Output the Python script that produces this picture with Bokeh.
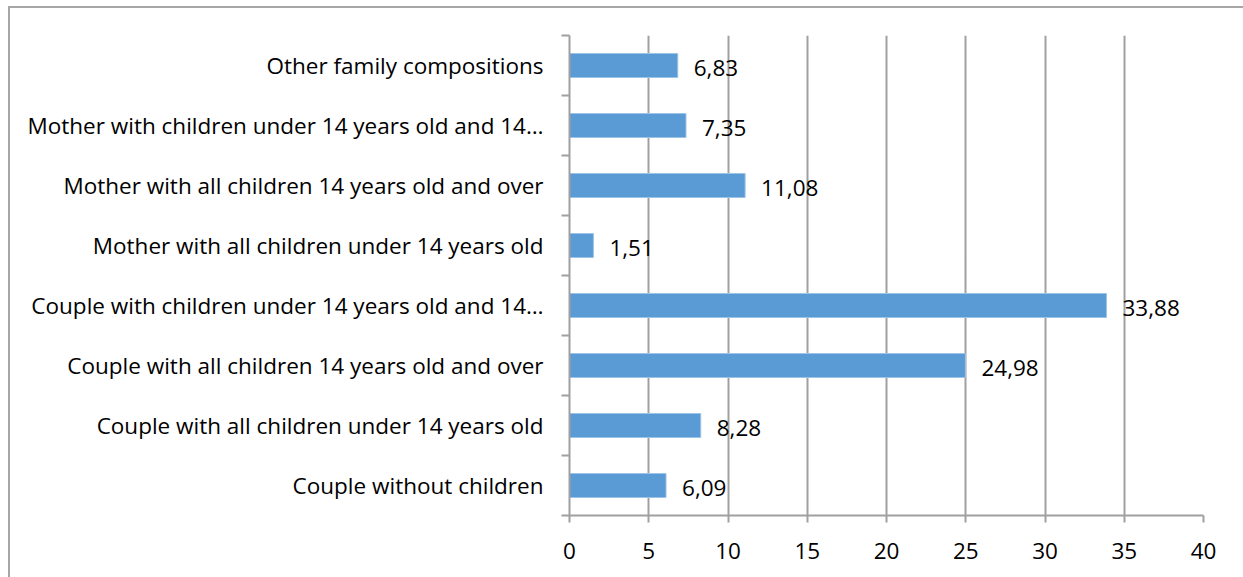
from bokeh.plotting import figure
from bokeh.models import FixedTicker, Range1d, ColumnDataSource, InlineStyleSheet
from bokeh.core.properties import value
from bokeh.embed import file_html
from bokeh.resources import INLINE

categories = [
    "Couple without children",
    "Couple with all children under 14 years old",
    "Couple with all children 14 years old and over",
    "Couple with children under 14 years old and 14\u2026",
    "Mother with all children under 14 years old",
    "Mother with all children 14 years old and over",
    "Mother with children under 14 years old and 14\u2026",
    "Other family compositions",
]
values = [6.09, 8.28, 24.98, 33.88, 1.51, 11.08, 7.35, 6.83]
x_ticks = [0, 5, 10, 15, 20, 25, 30, 35, 40]

FONT = "Open Sans"
FS = "22.5px"
ypos = [i + 0.5 for i in range(len(categories))]
labels = [f"{v:.2f}".replace(".", ",") for v in values]
src = ColumnDataSource(dict(y=ypos, v=values, lab=labels))

css = InlineStyleSheet(css=":host { border-left: 2px solid #a6a6a6; border-top: 2px solid #a6a6a6; }")

p = figure(width=1235, height=571, output_backend="svg", toolbar_location=None,
           x_range=Range1d(0, 40), y_range=Range1d(0, len(categories)),
           min_border_left=559, min_border_right=42, min_border_top=27, min_border_bottom=64,
           margin=(6, 0, 0, 8), stylesheets=[css])
p.outline_line_color = None
p.background_fill_color = "white"
p.border_fill_color = "white"

p.hbar(y="y", right="v", left=0, height=0.4, source=src,
       fill_color="#5B9BD5", line_color="#9DC3E6", line_width=1)
p.text(x="v", y="y", text="lab", source=src, x_offset=16, y_offset=2,
       text_align="left", text_baseline="middle",
       text_font=value(FONT), text_font_size=FS, text_color="black")

# x axis
p.xaxis.ticker = FixedTicker(ticks=x_ticks)
p.xaxis.axis_line_color = "#a0a0a0"
p.xaxis.axis_line_width = 2
p.xaxis.major_tick_line_color = "#a0a0a0"
p.xaxis.major_tick_line_width = 2
p.xaxis.major_tick_out = 7
p.xaxis.major_tick_in = 0
p.xaxis.minor_tick_line_color = None
p.xaxis.major_label_text_font = FONT
p.xaxis.major_label_text_font_size = FS
p.xaxis.major_label_text_color = "black"
p.xaxis.major_label_standoff = 20

# y axis
p.yaxis.ticker = FixedTicker(ticks=ypos, minor_ticks=list(range(len(categories) + 1)))
p.yaxis.major_label_overrides = {y: c for y, c in zip(ypos, categories)}
p.yaxis.axis_line_color = "#a0a0a0"
p.yaxis.axis_line_width = 2
p.yaxis.major_tick_line_color = None
p.yaxis.minor_tick_line_color = "#a0a0a0"
p.yaxis.minor_tick_line_width = 2
p.yaxis.minor_tick_out = 8
p.yaxis.minor_tick_in = 0
p.yaxis.major_label_text_font = FONT
p.yaxis.major_label_text_font_size = FS
p.yaxis.major_label_text_color = "black"
p.yaxis.major_label_standoff = 18

p.xgrid.ticker = FixedTicker(ticks=x_ticks)
p.xgrid.grid_line_color = "#a0a0a0"
p.xgrid.grid_line_width = 2
p.ygrid.grid_line_color = None

open("out.html", "w").write(file_html(p, INLINE))
